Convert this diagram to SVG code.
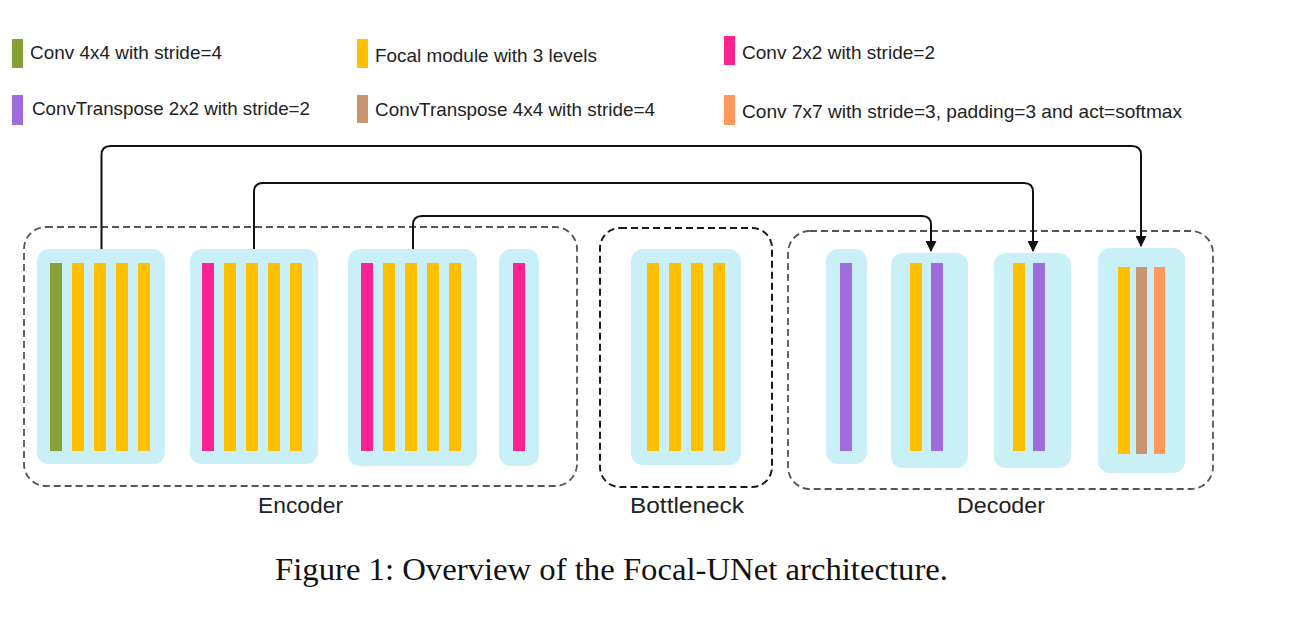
<svg xmlns="http://www.w3.org/2000/svg" width="1293" height="639" viewBox="0 0 1293 639">
<defs>
<style>
.blk{fill:#C9F0F6}
.g{fill:#86A036}.y{fill:#FFC000}.p{fill:#FF2291}.u{fill:#9E6CDC}.b{fill:#C7946E}.o{fill:#FF995B}
.grp{fill:none;stroke:#555;stroke-width:1.8;stroke-dasharray:7 4}
.grpd{fill:none;stroke:#1a1a1a;stroke-width:2;stroke-dasharray:7 4}
.lg{font-family:"Liberation Sans",Arial,sans-serif;font-size:19px;fill:#222}
.lbl{font-family:"Liberation Sans",Arial,sans-serif;font-size:22px;fill:#222}
.cap{font-family:"Liberation Serif","Times New Roman",serif;font-size:32px;fill:#111}
.con{fill:none;stroke:#111;stroke-width:2}
</style>
<marker id="arr" markerWidth="11" markerHeight="11" refX="10" refY="5.5" orient="auto" markerUnits="userSpaceOnUse">
<path d="M0,0 L11,5.5 L0,11 z" fill="#111"/>
</marker>
</defs>
<rect width="1293" height="639" fill="#fff"/>

<g id="legend">
<rect class="g" x="12" y="39" width="11" height="29"/>
<text class="lg" x="30" y="59" textLength="192" lengthAdjust="spacingAndGlyphs">Conv 4x4 with stride=4</text>
<rect class="y" x="357" y="39" width="11" height="29"/>
<text class="lg" x="375" y="62" textLength="222" lengthAdjust="spacingAndGlyphs">Focal module with 3 levels</text>
<rect class="p" x="724" y="36" width="11" height="29"/>
<text class="lg" x="742" y="59" textLength="193" lengthAdjust="spacingAndGlyphs">Conv 2x2 with stride=2</text>
<rect class="u" x="12" y="95" width="11" height="30"/>
<text class="lg" x="32" y="115" textLength="278" lengthAdjust="spacingAndGlyphs">ConvTranspose 2x2 with stride=2</text>
<rect class="b" x="357" y="95" width="11" height="28"/>
<text class="lg" x="375" y="116" textLength="280" lengthAdjust="spacingAndGlyphs">ConvTranspose 4x4 with stride=4</text>
<rect class="o" x="724" y="95" width="11" height="30"/>
<text class="lg" x="742" y="118" textLength="440" lengthAdjust="spacingAndGlyphs">Conv 7x7 with stride=3, padding=3 and act=softmax</text>
</g>

<g id="encoder">
<rect class="grp" x="24" y="227" width="553" height="259" rx="22"/>
<text class="lbl" x="258" y="513" textLength="85" lengthAdjust="spacingAndGlyphs">Encoder</text>
</g>
<g id="enc1">
<rect class="blk" x="37" y="249" width="128" height="215" rx="12"/>
<rect class="g" x="50" y="263" width="12" height="188"/>
<rect class="y" x="72" y="263" width="12" height="188"/>
<rect class="y" x="94" y="263" width="12" height="188"/>
<rect class="y" x="116" y="263" width="12" height="188"/>
<rect class="y" x="138" y="263" width="12" height="188"/>
</g>
<g id="enc2">
<rect class="blk" x="190" y="249" width="128" height="215" rx="12"/>
<rect class="p" x="202" y="263" width="12" height="188"/>
<rect class="y" x="224" y="263" width="12" height="188"/>
<rect class="y" x="246" y="263" width="12" height="188"/>
<rect class="y" x="268" y="263" width="12" height="188"/>
<rect class="y" x="290" y="263" width="12" height="188"/>
</g>
<g id="enc3">
<rect class="blk" x="348" y="249" width="129" height="217" rx="12"/>
<rect class="p" x="361" y="263" width="12" height="188"/>
<rect class="y" x="383" y="263" width="12" height="188"/>
<rect class="y" x="405" y="263" width="12" height="188"/>
<rect class="y" x="427" y="263" width="12" height="188"/>
<rect class="y" x="449" y="263" width="12" height="188"/>
</g>
<g id="enc4">
<rect class="blk" x="499" y="249" width="40" height="217" rx="12"/>
<rect class="p" x="513" y="263" width="12" height="188"/>
</g>

<g id="bottleneck">
<rect class="grpd" x="600" y="228" width="172" height="259" rx="20"/>
<text class="lbl" x="630" y="513" textLength="114" lengthAdjust="spacingAndGlyphs">Bottleneck</text>
</g>
<g id="bott1">
<rect class="blk" x="631" y="249" width="110" height="216" rx="12"/>
<rect class="y" x="647" y="263" width="12" height="188"/>
<rect class="y" x="669" y="263" width="12" height="188"/>
<rect class="y" x="691" y="263" width="12" height="188"/>
<rect class="y" x="713" y="263" width="12" height="188"/>
</g>

<g id="decoder">
<rect class="grp" x="788" y="231" width="425" height="258" rx="22"/>
<text class="lbl" x="957" y="513" textLength="88" lengthAdjust="spacingAndGlyphs">Decoder</text>
</g>
<g id="dec1">
<rect class="blk" x="826" y="249" width="41" height="215" rx="12"/>
<rect class="u" x="840" y="263" width="12" height="188"/>
</g>
<g id="dec2">
<rect class="blk" x="891" y="253" width="77" height="215" rx="12"/>
<rect class="y" x="910" y="263" width="12" height="188"/>
<rect class="u" x="931" y="263" width="12" height="188"/>
</g>
<g id="dec3">
<rect class="blk" x="994" y="253" width="77" height="215" rx="12"/>
<rect class="y" x="1013" y="263" width="12" height="188"/>
<rect class="u" x="1033" y="263" width="12" height="188"/>
</g>
<g id="dec4">
<rect class="blk" x="1098" y="248" width="87" height="225" rx="12"/>
<rect class="y" x="1118" y="267" width="12" height="187"/>
<rect class="b" x="1136" y="267" width="11" height="187"/>
<rect class="o" x="1154" y="267" width="11" height="187"/>
</g>

<g id="connectors">
<path class="con" d="M101.5,249 V155 Q101.5,146 110.5,146 H1132 Q1141,146 1141,155 V246" marker-end="url(#arr)"/>
<path class="con" d="M254,249 V192 Q254,183 263,183 H1024 Q1033,183 1033,192 V251" marker-end="url(#arr)"/>
<path class="con" d="M413,249 V225 Q413,216 422,216 H922 Q931,216 931,225 V251" marker-end="url(#arr)"/>
</g>

<text class="cap" x="275" y="580" textLength="673" lengthAdjust="spacingAndGlyphs">Figure 1: Overview of the Focal-UNet architecture.</text>
</svg>
